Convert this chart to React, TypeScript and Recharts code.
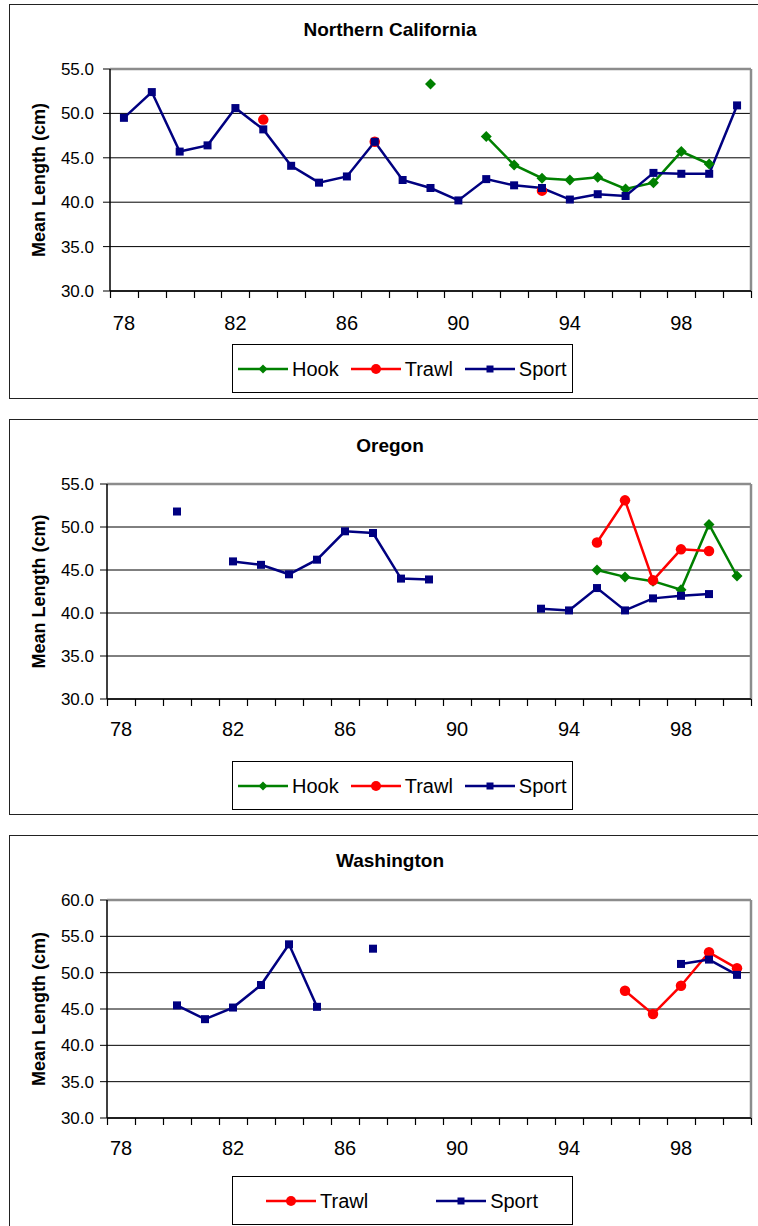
import React from "react";
import { LineChart, Line, XAxis, YAxis, CartesianGrid, ReferenceLine, Legend } from "recharts";

// fishing years 1978 .. 2000 (2000 shown as 100)
const years = [78, 79, 80, 81, 82, 83, 84, 85, 86, 87, 88, 89, 90, 91, 92, 93, 94, 95, 96, 97, 98, 99, 100];
const yearTicks = [78, 82, 86, 90, 94, 98];
const yearLabels = ["78", "82", "86", "90", "94", "98"];

const ticks55 = [30, 35, 40, 45, 50, 55];
const ticks60 = [30, 35, 40, 45, 50, 55, 60];

// Northern California
const caHook = [null, null, null, null, null, null, null, null, null, null, null, 53.3, null, 47.4, 44.2, 42.7, 42.5, 42.8, 41.5, 42.2, 45.7, 44.3, null];
const caTrawl = [null, null, null, null, null, 49.3, null, null, null, 46.8, null, null, null, null, null, 41.3, null, null, null, null, null, null, null];
const caSport = [49.5, 52.4, 45.7, 46.4, 50.6, 48.2, 44.1, 42.2, 42.9, 46.8, 42.5, 41.6, 40.2, 42.6, 41.9, 41.6, 40.3, 40.9, 40.7, 43.3, 43.2, 43.2, 50.9];

// Oregon
const orHook = [null, null, null, null, null, null, null, null, null, null, null, null, null, null, null, null, null, 45.0, 44.2, 43.7, 42.7, 50.3, 44.3];
const orTrawl = [null, null, null, null, null, null, null, null, null, null, null, null, null, null, null, null, null, 48.2, 53.1, 43.8, 47.4, 47.2, null];
const orSport = [null, null, 51.8, null, 46.0, 45.6, 44.5, 46.2, 49.5, 49.3, 44.0, 43.9, null, null, null, 40.5, 40.3, 42.9, 40.3, 41.7, 42.0, 42.2, null];

// Washington
const waTrawl = [null, null, null, null, null, null, null, null, null, null, null, null, null, null, null, null, null, null, 47.5, 44.3, 48.2, 52.8, 50.6];
const waSport = [null, null, 45.5, 43.6, 45.2, 48.3, 53.9, 45.3, null, 53.3, null, null, null, null, null, null, null, null, null, null, 51.2, 51.8, 49.7];

const SERIES: Record<string, { color: string; shape: string }> = {
  Hook: { color: "#008000", shape: "diamond" },
  Trawl: { color: "#ff0000", shape: "circle" },
  Sport: { color: "#000080", shape: "square" },
};

const FONT = '"Liberation Sans", Arial, sans-serif';
const CHART_W = 758;
const RIGHT = 7;

const panels = [
  {
    title: "Northern California",
    series: [["Hook", caHook], ["Trawl", caTrawl], ["Sport", caSport]] as [string, (number | null)[]][],
    yTicks: ticks55,
    top: 0, height: 400, frameTop: 4, frameBottom: 399,
    plotTop: 69, plotBottom: 291, plotLeft: 110, labelCenter: 323,
    titleY: 30, legendTop: 344, legendPad: 5, legendGap: 12,
  },
  {
    title: "Oregon",
    series: [["Hook", orHook], ["Trawl", orTrawl], ["Sport", orSport]] as [string, (number | null)[]][],
    yTicks: ticks55,
    top: 410, height: 410, frameTop: 419, frameBottom: 815,
    plotTop: 484, plotBottom: 699, plotLeft: 107, labelCenter: 729,
    titleY: 446, legendTop: 761, legendPad: 5, legendGap: 12,
  },
  {
    title: "Washington",
    series: [["Trawl", waTrawl], ["Sport", waSport]] as [string, (number | null)[]][],
    yTicks: ticks60,
    top: 820, height: 406, frameTop: 835, frameBottom: 1240,
    plotTop: 900, plotBottom: 1118, plotLeft: 107, labelCenter: 1148,
    titleY: 861, legendTop: 1176, legendPad: 33, legendGap: 68,
  },
];

const Marker = ({ shape, color, cx, cy, size }: any) => {
  const h = size / 2;
  if (shape === "square") return <rect x={cx - h} y={cy - h} width={size} height={size} fill={color} />;
  if (shape === "circle") return <circle cx={cx} cy={cy} r={h} fill={color} />;
  return <polygon points={`${cx},${cy - h} ${cx + h},${cy} ${cx},${cy + h} ${cx - h},${cy}`} fill={color} />;
};

const markerSize: Record<string, number> = { square: 8, circle: 10.5, diamond: 11 };
const legendMarkerSize: Record<string, number> = { square: 7, circle: 10, diamond: 9 };

const makeDot = (name: string) => (p: any) => {
  const s = SERIES[name];
  if (p.cy == null || p.value == null || Number.isNaN(p.cy)) return <g key={`d-${p.index}`} />;
  return (
    <g key={`d-${p.index}`}>
      <Marker shape={s.shape} color={s.color} cx={p.cx} cy={p.cy} size={markerSize[s.shape]} />
    </g>
  );
};

// each year tick: a tick mark on the category boundary to its left (and right, for the last one),
// plus a label every fourth year
const makeXTick = (labelOffset: number, half: number) => (p: any) => {
  const v = p.payload.value;
  const i = yearTicks.indexOf(v);
  const last = v === years[years.length - 1];
  const y0 = Number(p.y);
  const xl = Math.round(Number(p.x) - half) + 0.5;
  const xr = Math.round(Number(p.x) + half) + 0.5;
  return (
    <g key={`t-${v}`}>
      <path d={`M${xl},${y0}L${xl},${y0 + 7}`} stroke="#000" strokeWidth={1.2} fill="none" />
      {last && <path d={`M${xr},${y0}L${xr},${y0 + 7}`} stroke="#000" strokeWidth={1.2} fill="none" />}
      {i >= 0 && (
        <text x={p.x} y={y0 + labelOffset} textAnchor="middle" fontSize={20} fill="#000" fontFamily={FONT}>
          {yearLabels[i]}
        </text>
      )}
    </g>
  );
};

const makeLegend = (order: string[], pad: number, gap: number) => (props: any) => {
  const payload = [...(props.payload || [])].sort(
    (a: any, b: any) => order.indexOf(a.value) - order.indexOf(b.value)
  );
  return (
    <div
      style={{
        boxSizing: "border-box", width: 341, height: 49, border: "1px solid #000", background: "#fff",
        display: "flex", alignItems: "center", paddingLeft: pad, gap, fontFamily: FONT,
      }}
    >
      {payload.map((e: any) => {
        const s = SERIES[e.value];
        return (
          <div key={e.value} style={{ display: "flex", alignItems: "center" }}>
            <svg width={50} height={14}>
              <line x1={0} x2={50} y1={7} y2={7} stroke={s.color} strokeWidth={2.5} />
              <Marker shape={s.shape} color={s.color} cx={25} cy={7} size={legendMarkerSize[s.shape]} />
            </svg>
            <span style={{ marginLeft: 4, fontSize: 20, lineHeight: "22px", color: "#000" }}>{e.value}</span>
          </div>
        );
      })}
    </div>
  );
};

const Panel = ({ cfg }: any) => {
  const data = years.map((year, i) => {
    const row: any = { year };
    cfg.series.forEach(([name, vals]: [string, (number | null)[]]) => {
      row[name] = vals[i];
    });
    return row;
  });
  const order = cfg.series.map(([name]: [string]) => name);
  const domain = [years[0] - 0.5, years[years.length - 1] + 0.5];
  const half = (CHART_W - RIGHT - cfg.plotLeft) / years.length / 2;
  const plotTopRel = cfg.plotTop - cfg.top;
  const plotBottomRel = cfg.plotBottom - cfg.top;
  const xAxisH = cfg.height - plotBottomRel;
  const yMax = cfg.yTicks[cfg.yTicks.length - 1];
  // baseline of the year labels, below the plot bottom
  const labelOffset = cfg.labelCenter - cfg.plotBottom + 7;

  return (
    <>
      <div
        style={{
          position: "absolute", left: 9, top: cfg.frameTop, width: 770, height: cfg.frameBottom - cfg.frameTop,
          border: "1.5px solid #222", boxSizing: "border-box",
        }}
      />
      <div
        style={{
          position: "absolute", left: 0, width: 780, top: cfg.titleY - 12, height: 24, lineHeight: "24px",
          textAlign: "center", fontWeight: "bold", fontSize: 19, fontFamily: FONT, color: "#000",
        }}
      >
        {cfg.title}
      </div>
      <div style={{ position: "absolute", left: 0, top: cfg.top }}>
        <LineChart
          width={CHART_W}
          height={cfg.height}
          data={data}
          margin={{ top: plotTopRel, right: RIGHT, bottom: 0, left: 0 }}
        >
          <CartesianGrid vertical={false} stroke="#000" strokeWidth={1} yAxisId="len" xAxisId="yr" />
          <XAxis
            xAxisId="yr"
            dataKey="year"
            type="number"
            domain={domain}
            allowDataOverflow
            ticks={years}
            interval={0}
            height={xAxisH}
            tickSize={0}
            tickMargin={0}
            tickLine={false}
            stroke="#000"
            axisLine={{ stroke: "#000", strokeWidth: 1.5 }}
            tick={makeXTick(labelOffset, half)}
          />
          <YAxis
            yAxisId="len"
            type="number"
            domain={[cfg.yTicks[0], yMax]}
            ticks={cfg.yTicks}
            interval={0}
            width={cfg.plotLeft}
            tickSize={7}
            tickMargin={cfg.plotLeft - 7 - 94}
            tickFormatter={(v: number) => v.toFixed(1)}
            stroke="#000"
            axisLine={{ stroke: "#000", strokeWidth: 1.5 }}
            tickLine={{ stroke: "#000" }}
            tick={{ fontSize: 17, fill: "#000", fontFamily: FONT }}
            label={{
              value: "Mean Length (cm)",
              angle: -90,
              position: "insideLeft",
              offset: 39,
              style: { textAnchor: "middle", fontWeight: "bold", fontSize: 18, fill: "#000", fontFamily: FONT },
            }}
          />
          <ReferenceLine yAxisId="len" xAxisId="yr" y={yMax} stroke="#8c8c8c" strokeWidth={2.5} />
          <ReferenceLine yAxisId="len" xAxisId="yr" x={domain[1]} stroke="#8c8c8c" strokeWidth={2.5} />
          <Legend
            layout="horizontal"
            align="center"
            verticalAlign="middle"
            wrapperStyle={{ top: cfg.legendTop - cfg.top, left: 232, width: 341, height: 49 }}
            content={makeLegend(order, cfg.legendPad, cfg.legendGap)}
          />
          {cfg.series.map(([name]: [string]) => (
            <Line
              key={name}
              name={name}
              dataKey={name}
              xAxisId="yr"
              yAxisId="len"
              type="linear"
              stroke={SERIES[name].color}
              strokeWidth={2.5}
              connectNulls={false}
              dot={makeDot(name)}
              activeDot={false}
              isAnimationActive={false}
            />
          ))}
        </LineChart>
      </div>
    </>
  );
}

export default function App() {
  return (
    <div
      style={{
        position: "absolute", left: 0, top: 0, width: 758, height: 1226, overflow: "hidden",
        background: "#fff", fontFamily: FONT,
      }}
    >
      {panels.map((cfg) => (
        <Panel key={cfg.title} cfg={cfg} />
      ))}
    </div>
  );
}
